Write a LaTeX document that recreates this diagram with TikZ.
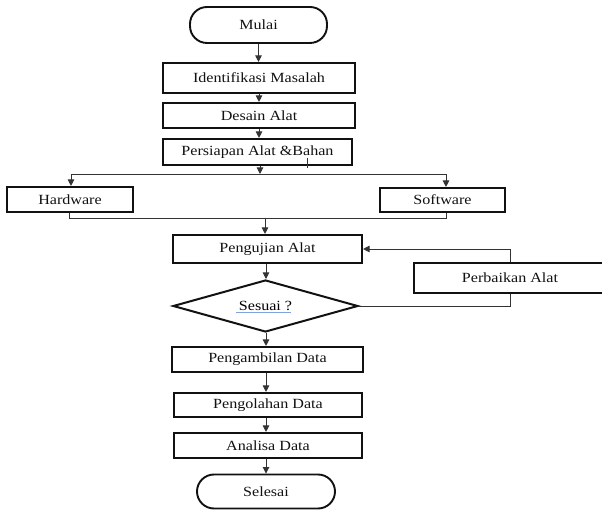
\documentclass[tikz,border=0pt]{standalone}
\usepackage{fontspec}
\setmainfont{Liberation Serif}[FakeStretch=1.15]
\usetikzlibrary{arrows.meta,calc,shapes.geometric}
\definecolor{ink}{HTML}{111111}
\definecolor{wire}{HTML}{333333}
\definecolor{squiggle}{HTML}{7FA3DC}

\begin{document}
\begin{tikzpicture}[
    x=1pt, y=-1pt,
    font=\fontsize{14}{16}\selectfont,
    box/.style={draw=ink, line width=2.1pt, rectangle, inner sep=0pt, text=ink},
    terminal/.style={box, line width=1.9pt, rounded corners=17pt},
    decision/.style={draw=ink, line width=2pt, diamond, aspect=3.5, inner sep=0pt,
        minimum width=185pt, minimum height=52pt},
    line/.style={draw=wire, line width=0.9pt},
    arrow/.style={line, -{Triangle[length=6.5pt, width=6.5pt]}}
]

% Page frame: 602 x 510.
\useasboundingbox (0,0) rectangle (602,510);

% Main flow.
\node[terminal, minimum width=137pt, minimum height=36pt] (mulai) at (258.5,25) {Mulai};
\node[box, minimum width=192pt, minimum height=30pt] (identifikasi) at (259,78) {Identifikasi Masalah};
\node[box, minimum width=192pt, minimum height=25pt] (desain) at (259,115.5) {Desain Alat};
\node[box, minimum width=189pt, minimum height=26pt] (persiapan) at (257.5,152) {Persiapan Alat \&Bahan};

% Hardware / software branch.
\node[box, minimum width=126pt, minimum height=25pt] (hardware) at (70,199.5) {Hardware};
\node[box, minimum width=125pt, minimum height=24pt] (software) at (442.5,200) {Software};

% Testing loop.
\node[box, minimum width=189pt, minimum height=28pt] (pengujian) at (267.5,249) {Pengujian Alat};
\node[decision] (sesuai) at (265.5,306) {Sesuai ?};
\node[box, minimum width=192pt, minimum height=30pt] (perbaikan) at (510,278) {Perbaikan Alat};

% Data steps.
\node[box, minimum width=191pt, minimum height=25pt] (pengambilan) at (267.5,359.5) {Pengambilan Data};
\node[box, minimum width=188pt, minimum height=24pt] (pengolahan) at (268,405) {Pengolahan Data};
\node[box, minimum width=188pt, minimum height=25pt] (analisa) at (268,445.5) {Analisa Data};
\node[terminal, minimum width=138pt, minimum height=34pt] (selesai) at (266,491.5) {Selesai};

% Spell-check underline and cursor mark.
\draw[draw=squiggle, line width=1.4pt] (236,312.5) -- (291,312.5);
\draw[line, line width=0.6pt] (307,158) -- (307,168);

% Junction points.
\coordinate (split) at (260,174);
\coordinate (splitL) at (71,174);
\coordinate (splitR) at (446,174);
\coordinate (merge) at (265,218.5);

% Connectors.
\draw[arrow] (mulai.south) -- (mulai.south |- identifikasi.north);
\draw[arrow] (identifikasi.south) -- (identifikasi.south |- desain.north);
\draw[arrow] (desain.south) -- (desain.south |- persiapan.north);
\draw[arrow] (persiapan.south -| split) -- (split);
\draw[line] (splitL) -- (splitR);
\draw[arrow] (splitL) -- (splitL |- hardware.north);
\draw[arrow] (splitR) -- (splitR |- software.north);
\draw[line] (hardware.south -| 69,0) |- (merge) -| (software.south -| splitR);
\draw[arrow] (merge) -- (merge |- pengujian.north);
\draw[arrow] (pengujian.south -| 266,0) -- (sesuai.north -| 266,0);
\draw[line] (sesuai.east) -| (perbaikan.south);
\draw[arrow] (perbaikan.north) |- (pengujian.east);
\draw[arrow] (sesuai.south -| 266,0) -- (pengambilan.north -| 266,0);
\draw[arrow] (pengambilan.south -| 266,0) -- (pengolahan.north -| 266,0);
\draw[arrow] (pengolahan.south -| 266,0) -- (analisa.north -| 266,0);
\draw[arrow] (analisa.south -| 266,0) -- (selesai.north -| 266,0);

\end{tikzpicture}
\end{document}
